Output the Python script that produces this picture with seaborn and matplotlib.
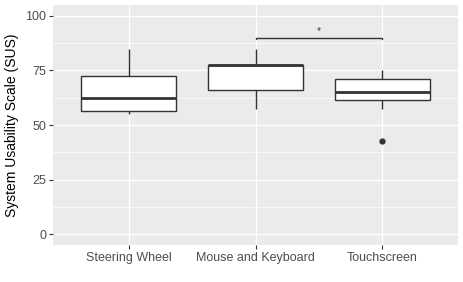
import numpy as np
import pandas as pd
import matplotlib
matplotlib.use("Agg")
import matplotlib.pyplot as plt
import seaborn as sns
from matplotlib.ticker import MultipleLocator

# SUS scores per interface
steering_wheel = [55, 55, 55, 57.5, 60, 62.5, 65, 72.5, 72.5, 80, 85]
mouse_keyboard = [57.5, 62.5, 65, 67.5, 72.5, 77.5, 77.5, 77.5, 77.5, 82.5, 85]
touchscreen = [42.5, 57.5, 60, 62.5, 62.5, 65, 67.5, 70, 72.5, 75, 75]
conditions = ["Steering Wheel", "Mouse and Keyboard", "Touchscreen"]

df = pd.DataFrame({
    "condition": np.repeat(conditions, [len(steering_wheel), len(mouse_keyboard), len(touchscreen)]),
    "sus": steering_wheel + mouse_keyboard + touchscreen,
})

sns.set_theme(style="darkgrid", rc={
    "axes.facecolor": "#EBEBEB",
    "grid.color": "white",
    "axes.edgecolor": "#EBEBEB",
})
plt.rcParams["font.family"] = ["Liberation Sans", "DejaVu Sans"]

fig = plt.figure(figsize=(4.63, 2.82), dpi=100)
ax = fig.add_axes([53 / 463, 1 - 245 / 282, 405 / 463, 240 / 282])

edge = "#333333"
sns.boxplot(data=df, x="condition", y="sus", order=conditions, ax=ax,
            width=0.75, color="white", linecolor=edge, linewidth=1.0,
            showcaps=False,
            medianprops={"color": edge, "linewidth": 2.0},
            flierprops={"marker": "o", "markersize": 3.5, "markerfacecolor": edge,
                        "markeredgecolor": edge})

# significance bracket
ax.plot([1, 1, 2, 2], [89.2, 90, 90, 89.2], color=edge, lw=1.0)
ax.text(1.5, 93.0, "*", ha="center", va="center", fontsize=7.5, color=edge)

ax.set_ylim(-5, 105)
ax.set_xlim(-0.6, 2.6)
ax.yaxis.set_major_locator(MultipleLocator(25))
ax.yaxis.set_minor_locator(MultipleLocator(12.5))
ax.grid(which="major", color="white", lw=1.0)
ax.grid(which="minor", axis="y", color="white", lw=0.5)
ax.set_axisbelow(True)
for s in ax.spines.values():
    s.set_visible(False)

ax.set_xlabel("")
ax.set_ylabel("System Usability Scale (SUS)", fontsize=10, color="black", labelpad=4)
ax.tick_params(axis="both", which="major", length=3, width=0.8, color=edge,
               labelsize=9, labelcolor="#4D4D4D", pad=2, bottom=True, left=True)
ax.tick_params(axis="y", which="minor", length=0)

fig.savefig("out.png", dpi=100)
